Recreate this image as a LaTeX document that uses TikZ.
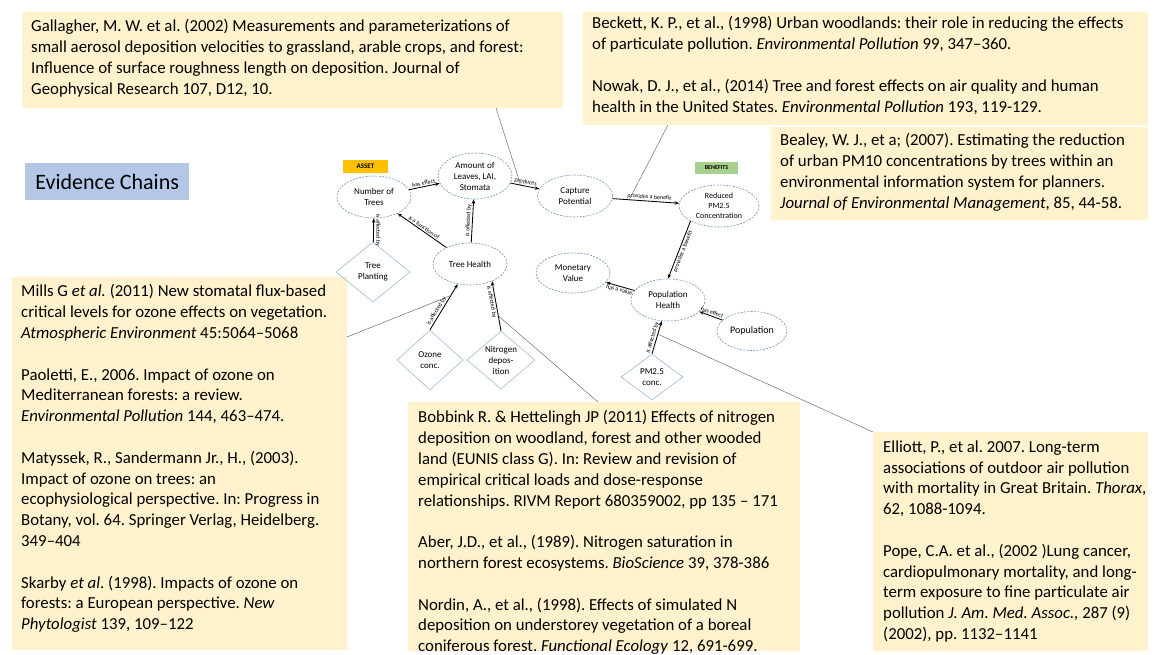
\documentclass[tikz,border=0pt]{standalone}
\usepackage{fontspec}
\setmainfont{Carlito}
\usetikzlibrary{shapes.geometric,arrows.meta}
\frenchspacing

\definecolor{refyellow}{HTML}{FFF2CC}
\definecolor{evidenceblue}{HTML}{B4C7E7}
\definecolor{assetorange}{HTML}{FFC000}
\definecolor{benefitgreen}{HTML}{A9D18E}
\definecolor{conceptblue}{HTML}{6F93BF}
\definecolor{driverblue}{HTML}{9DB9DE}
\definecolor{citegray}{HTML}{555555}

\newcommand\myRefFont{\fontsize{16.8}{20.8}\selectfont}
\newcommand\myNodeFont{\fontsize{9}{11}\selectfont}
\newcommand\myLinkFont{\fontsize{6}{7}\selectfont}
\newcommand\myTagFont{\fontsize{7}{8}\selectfont\bfseries}

\tikzset{
  refbox/.style={fill=refyellow, draw=none, inner sep=0pt, anchor=north west},
  reftext/.style={inner sep=0pt, anchor=north west, align=left, font=\myRefFont},
  concept/.style={ellipse, draw=conceptblue, dash pattern=on 2pt off 1.3pt,
    line width=0.6pt, inner sep=0pt, align=center, font=\myNodeFont},
  driver/.style={diamond, draw=driverblue, line width=0.6pt, inner sep=-3pt,
    align=center, font=\myNodeFont},
  link/.style={draw=black, line width=0.85pt, -{Stealth[length=4.5pt,width=3.5pt]}},
  linklabel/.style={font=\myLinkFont, sloped, inner sep=1pt},
  sidelabel/.style={font=\myLinkFont, inner sep=1.5pt},
  cite/.style={draw=citegray, line width=0.4pt},
  tagbox/.style={inner sep=0pt, font=\myTagFont}
}

\begin{document}
\begin{tikzpicture}[x=1pt, y=-1pt]
\useasboundingbox (0,0) rectangle (1157,654);

% ---- reference boxes ----
\node[refbox, minimum width=541pt, minimum height=96pt] (gal) at (22,12) {};
\node[reftext] (galtext) at (31,19.5) {Gallagher, M. W. et al. (2002) Measurements and parameterizations of\\
small aerosol deposition velocities to grassland, arable crops, and forest:\\
Influence of surface roughness length on deposition. Journal of\\
Geophysical Research 107, D12, 10.};

\node[refbox, minimum width=565pt, minimum height=113pt] (beck) at (583,12) {};
\node[reftext] (becktext) at (592,16.5) {Beckett, K. P., et al., (1998) Urban woodlands: their role in reducing the effects\\
of particulate pollution. \textit{Environmental Pollution} 99, 347--360.\\[20.8pt]
Nowak, D. J., et al., (2014) Tree and forest effects on air quality and human\\
health in the United States. \textit{Environmental Pollution} 193, 119-129.};

\node[refbox, minimum width=377pt, minimum height=93pt] (bea) at (771,127) {};
\node[reftext] (beatext) at (780,133.5) {Bealey, W. J., et a; (2007). Estimating the reduction\\
of urban PM10 concentrations by trees within an\\
environmental information system for planners.\\
\textit{Journal of Environmental Management}, 85, 44-58.};

\node[fill=evidenceblue, minimum width=164pt, minimum height=37pt, inner sep=0pt,
  anchor=north west, font=\fontsize{22}{26}\selectfont] (evid) at (25,163) {Evidence Chains};

\node[refbox, minimum width=335pt, minimum height=373pt] (mills) at (12,277) {};
\node[reftext] (millstext) at (21,284.5) {Mills G \textit{et al.} (2011) New stomatal flux-based\\
critical levels for ozone effects on vegetation.\\
\textit{Atmospheric Environment} 45:5064--5068\\[20.8pt]
Paoletti, E., 2006. Impact of ozone on\\
Mediterranean forests: a review.\\
\textit{Environmental Pollution} 144, 463--474.\\[20.8pt]
Matyssek, R., Sandermann Jr., H., (2003).\\
Impact of ozone on trees: an\\
ecophysiological perspective. In: Progress in\\
Botany, vol. 64. Springer Verlag, Heidelberg.\\
349--404\\[20.8pt]
Skarby \textit{et al}. (1998). Impacts of ozone on\\
forests: a European perspective. \textit{New}\\
\textit{Phytologist} 139, 109--122};

\node[refbox, minimum width=392pt, minimum height=249pt] (bob) at (408,402) {};
\node[reftext] (bobtext) at (418,410.5) {Bobbink R. \& Hettelingh JP (2011) Effects of nitrogen\\
deposition on woodland, forest and other wooded\\
land (EUNIS class G). In: Review and revision of\\
empirical critical loads and dose-response\\
relationships. RIVM Report 680359002, pp 135 -- 171\\[20.8pt]
Aber, J.D., et al., (1989). Nitrogen saturation in\\
northern forest ecosystems. \textit{BioScience} 39, 378-386\\[20.8pt]
Nordin, A., et al., (1998). Effects of simulated N\\
deposition on understorey vegetation of a boreal\\
coniferous forest. \textit{Functional Ecology} 12, 691-699.};

\node[refbox, minimum width=275pt, minimum height=219pt] (ell) at (873,432) {};
\node[reftext] (elltext) at (883,440.5) {Elliott, P., et al. 2007. Long-term\\
associations of outdoor air pollution\\
with mortality in Great Britain. \textit{Thorax},\\
62, 1088-1094.\\[20.8pt]
Pope, C.A. et al., (2002 )Lung cancer,\\
cardiopulmonary mortality, and long-\\
term exposure to fine particulate air\\
pollution \textit{J. Am. Med. Assoc.,} 287 (9)\\
(2002), pp. 1132--1141};

% ---- category tags ----
\node[tagbox, fill=assetorange, minimum width=45pt, minimum height=13pt] (asset) at (365.5,166.5) {ASSET};
\node[tagbox, fill=benefitgreen, minimum width=43pt, minimum height=12pt,
  font=\fontsize{6}{7}\selectfont\bfseries] (benefits) at (716.5,168) {BENEFITS};

% ---- concepts ----
\node[concept, minimum width=74pt, minimum height=42pt] (nt) at (374,197) {Number of\\Trees};
\node[concept, minimum width=74pt, minimum height=46pt] (al) at (475,176) {Amount of\\Leaves, LAI,\\Stomata};
\node[concept, minimum width=75pt, minimum height=42pt] (cp) at (575,196) {Capture\\Potential};
\node[concept, minimum width=80pt, minimum height=42pt,
  font=\fontsize{8}{10}\selectfont] (red) at (719,206) {Reduced\\PM2.5\\Concentration};
\node[concept, minimum width=74pt, minimum height=42pt] (th) at (470,264) {Tree Health};
\node[concept, minimum width=74pt, minimum height=40pt] (mv) at (573,273) {Monetary\\Value};
\node[concept, minimum width=74pt, minimum height=42pt] (ph) at (668,300) {Population\\Health};
\node[concept, minimum width=70pt, minimum height=39pt,
  font=\fontsize{10}{12}\selectfont] (pop) at (752,331) {Population};

% ---- drivers ----
\node[driver, minimum width=74pt, minimum height=60pt] (tp) at (373,272) {Tree\\Planting};
\node[driver, minimum width=66pt, minimum height=60pt] (oz) at (430,360) {Ozone\\conc.};
\node[driver, minimum width=68pt, minimum height=58pt] (nd) at (501,360) {Nitrogen\\depos-\\ition};
\node[driver, minimum width=62pt, minimum height=46pt] (pm) at (652,377) {PM2.5\\conc.};

% ---- evidence links ----
\draw[link] (nt) -- node[linklabel, above] {has effect} (al);
\draw[link] (al) -- node[linklabel, above] {produces} coordinate[pos=0.35] (galhit) (cp);
\draw[link] (cp) -- node[linklabel, above, pos=0.55] {provides a benefit} coordinate[pos=0.25] (beckhit) (red);
\draw[link] (th) -- node[linklabel, above] {is a function of} (nt);
\draw[link] (tp) -- node[sidelabel, midway, rotate=-90, anchor=south] {is affected by} (nt);
\draw[link] (th) -- node[linklabel, above] {is affected by} (al);
\draw[link] (oz.north) -- node[linklabel, above, pos=0.36] {is affected by} coordinate[pos=0.75] (millshit) (th);
\draw[link] (nd.north) -- node[linklabel, below, pos=0.6] {is affected by} coordinate[pos=0.3] (bobhit) (th.-38);
\draw[link] (red.south west) -- node[linklabel, below] {provides a benefit} (ph.north);
\draw[link] (ph) -- node[linklabel, below] {has a value} (mv);
\draw[link] (pop) -- node[linklabel, above] {has effect} (ph);
\draw[link] (pm.north) -- node[linklabel, above, pos=0.45] {is affected by} coordinate[pos=0.6] (ellhit) (ph);

% ---- citation pointers ----
\coordinate (galfoot) at (496,108);
\coordinate (beckfoot) at (668,125);
\coordinate (millsfoot) at (347,337);
\coordinate (bobfoot) at (598,402);
\coordinate (ellfoot) at (873,432);
\draw[cite] (galfoot) -- (galhit);
\draw[cite] (beckfoot) -- (beckhit);
\draw[cite] (millsfoot) -- (millshit);
\draw[cite] (bobfoot) -- (bobhit);
\draw[cite] (ellfoot) -- (ellhit);
\end{tikzpicture}
\end{document}
